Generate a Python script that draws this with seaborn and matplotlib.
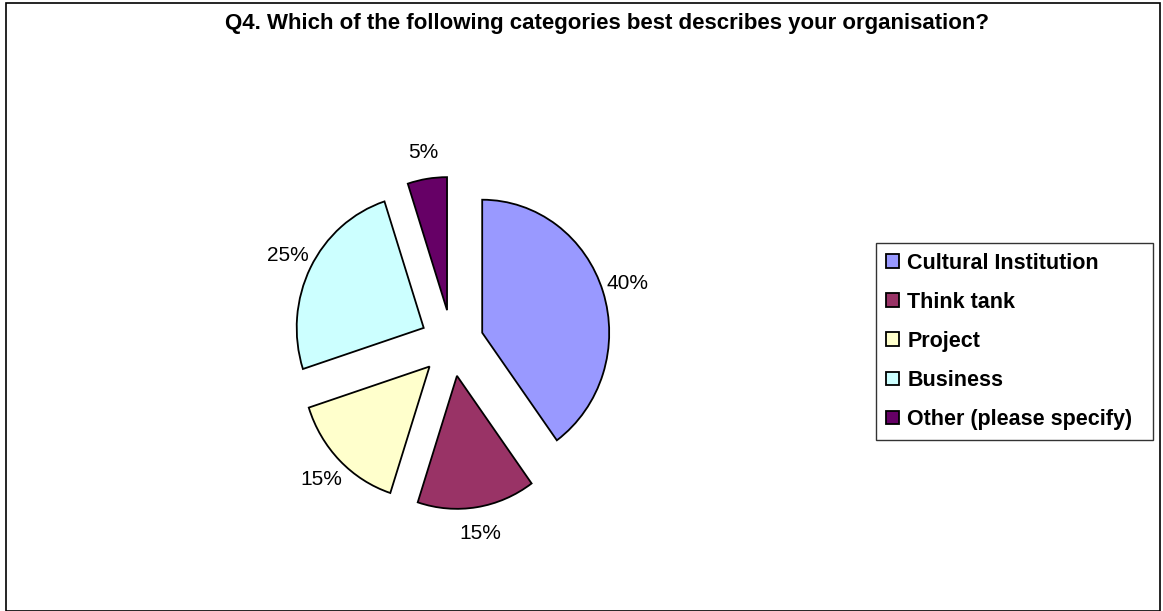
"""Q4 organisation category pie chart"""

import matplotlib
matplotlib.use('Agg')
import matplotlib.pyplot as plt
import seaborn as sns
from matplotlib.patches import Rectangle

categories = ['Cultural Institution', 'Think tank', 'Project', 'Business',
              'Other (please specify)']
shares = [40, 15, 15, 25, 5]
colours = ['#9999FF', '#993366', '#FFFFCC', '#CCFFFF', '#660066']
title = 'Q4. Which of the following categories best describes your organisation?'


def main():
    sns.set_theme(style='white')
    plt.rcParams['font.family'] = ['Liberation Sans', 'DejaVu Sans']
    plt.rcParams['text.color'] = 'black'

    W, H = 1163, 611
    fig = plt.figure(figsize=(W / 100, H / 100), dpi=100)
    fig.patch.set_facecolor('white')

    # outer chart frame
    fig.patches.append(Rectangle((6 / W, 0), (1160 - 6) / W, (608 - 0) / H,
                                 transform=fig.transFigure, fill=False,
                                 edgecolor='black', linewidth=1.2))

    # pie centre at (452, 343) px, slightly taller than wide as in the original
    cx, cy, rx, ry, half = 452, 343, 127, 133, 220
    ax = fig.add_axes([(cx - half) / W, (H - cy - half) / H, 2 * half / W, 2 * half / H])
    palette = sns.color_palette(colours)
    wedges, texts, autotexts = ax.pie(
        shares, colors=palette, startangle=90, counterclock=False,
        explode=[0.25] * len(shares), autopct='%1.0f%%', pctdistance=1.2,
        wedgeprops=dict(edgecolor='black', linewidth=1.3),
        textprops=dict(fontsize=15, color='black'))
    ax.set_aspect('auto')
    ax.set_xlim(-half / rx, half / rx)
    ax.set_ylim(-half / ry, half / ry)
    ax.axis('off')

    fig.text(607 / W, 1 - 23 / H, title, ha='center', va='center',
             fontsize=16, fontweight='bold', color='black')

    leg = fig.legend(wedges, categories, loc='upper left', mode='expand',
                     bbox_to_anchor=(876 / W, 1 - 440 / H, 277 / W, 197 / H),
                     prop=dict(weight='bold', size=15.5),
                     frameon=True, fancybox=False, borderpad=0.45,
                     labelspacing=0.84, handlelength=0.6, handleheight=0.6,
                     handletextpad=0.4, borderaxespad=0, labelcolor='black')
    leg.get_frame().set_edgecolor('black')
    leg.get_frame().set_linewidth(1)

    plt.savefig('out.png', dpi=100)


if __name__ == '__main__':
    main()
